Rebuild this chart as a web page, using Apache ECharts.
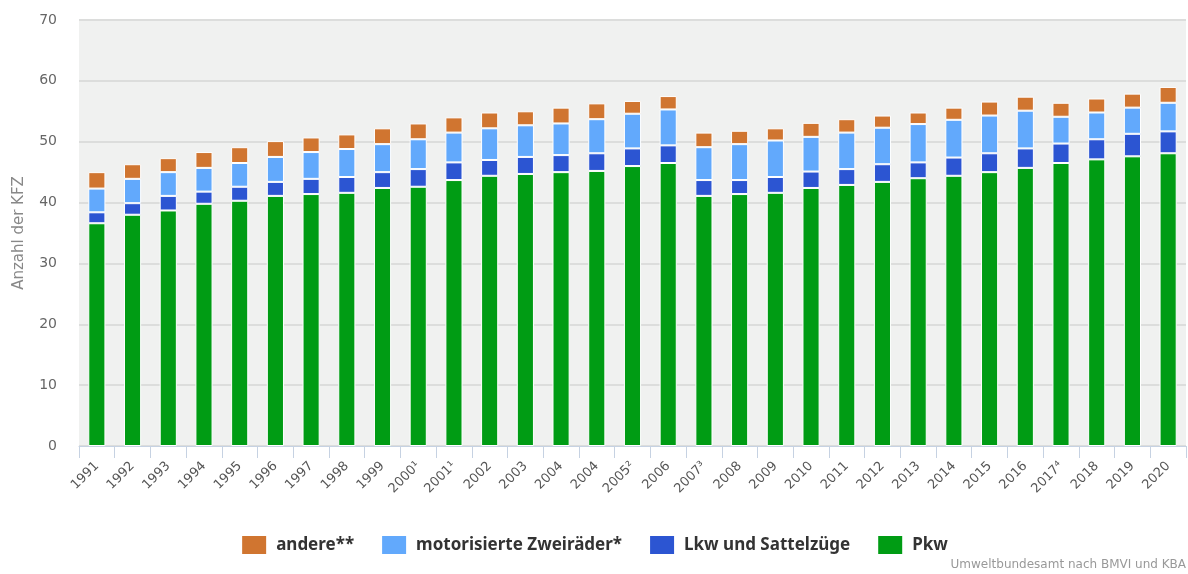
<!DOCTYPE html>
<html>
<head>
<meta charset="utf-8">
<script src="https://cdn.jsdelivr.net/npm/echarts@6/dist/echarts.min.js"></script>
<style>
  html, body { margin: 0; padding: 0; background: #fff; }
  #chart { width: 1188px; height: 574px; }
</style>
</head>
<body>
<div id="chart"></div>
<script>
const years = [
  "1991", "1992", "1993", "1994", "1995", "1996", "1997", "1998", "1999",
  "2000¹", "2001¹", "2002", "2003", "2004", "2004", "2005²", "2006", "2007³",
  "2008", "2009", "2010", "2011", "2012", "2013", "2014", "2015", "2016",
  "2017⁴", "2018", "2019", "2020"
];

// Mio. Fahrzeuge je Gruppe
const pkw = [
  36.6, 38.0, 38.7, 39.8, 40.3, 41.1, 41.4, 41.6, 42.4, 42.6, 43.7, 44.4, 44.7,
  45.0, 45.2, 46.0, 46.5, 41.1, 41.4, 41.6, 42.4, 42.9, 43.4, 44.0, 44.4, 45.0,
  45.7, 46.5, 47.1, 47.6, 48.1
];
const lkw = [
  1.8, 1.9, 2.4, 2.0, 2.3, 2.3, 2.5, 2.6, 2.6, 2.9, 2.9, 2.6, 2.8, 2.8, 2.9,
  2.9, 2.9, 2.6, 2.3, 2.6, 2.7, 2.6, 2.9, 2.6, 3.0, 3.1, 3.2, 3.2, 3.3, 3.7, 3.6
];
const zweiraeder = [
  3.9, 4.0, 3.9, 3.9, 3.9, 4.1, 4.4, 4.6, 4.6, 4.9, 4.9, 5.2, 5.2, 5.2, 5.6,
  5.7, 5.9, 5.4, 5.9, 6.0, 5.7, 6.0, 6.0, 6.3, 6.2, 6.2, 6.2, 4.4, 4.4, 4.3, 4.7
];
const andere = [
  2.7, 2.4, 2.3, 2.6, 2.6, 2.6, 2.4, 2.4, 2.6, 2.6, 2.5, 2.6, 2.3, 2.6, 2.6,
  2.1, 2.2, 2.4, 2.2, 2.0, 2.3, 2.2, 2.0, 1.9, 2.0, 2.3, 2.3, 2.3, 2.3, 2.3, 2.6
];

const chart = echarts.init(document.getElementById("chart"));

const barStyle = (color) => ({
  color: color,
  borderColor: "#ffffff",
  borderWidth: 1
});

const option = {
  animation: false,
  textStyle: { fontFamily: "DejaVu Sans" },
  grid: {
    left: 79,
    right: 2,
    top: 20,
    bottom: 128,
    show: true,
    backgroundColor: "#f0f1f0",
    borderWidth: 0
  },
  legend: {
    left: "center",
    top: 529,
    itemWidth: 26,
    itemHeight: 20,
    itemGap: 26,
    icon: "rect",
    textStyle: {
      fontFamily: "Noto Sans",
      fontWeight: "bold",
      fontSize: 17,
      color: "#333",
      padding: [0, 0, 0, 4]
    },
    data: ["andere**", "motorisierte Zweiräder*", "Lkw und Sattelzüge", "Pkw"]
  },
  xAxis: {
    type: "category",
    data: years,
    axisLine: { lineStyle: { color: "#c6d2e2", width: 1 } },
    axisTick: { show: true, length: 12, lineStyle: { color: "#c6d2e2" } },
    axisLabel: {
      rotate: 45,
      color: "#555",
      fontSize: 13,
      margin: 18,
      interval: 0
    }
  },
  yAxis: {
    type: "value",
    min: 0,
    max: 70,
    interval: 10,
    name: "Anzahl der KFZ",
    nameLocation: "middle",
    nameGap: 52,
    nameTextStyle: { color: "#888", fontSize: 15 },
    axisLine: { show: false },
    axisTick: { show: false },
    axisLabel: { color: "#666", fontSize: 14, margin: 22 },
    splitLine: { lineStyle: { color: "#dcdddc", width: 2 } }
  },
  series: [
    { name: "Pkw", type: "bar", stack: "kfz", barWidth: "48%", data: pkw, itemStyle: barStyle("#009c14") },
    { name: "Lkw und Sattelzüge", type: "bar", stack: "kfz", data: lkw, itemStyle: barStyle("#2c55d2") },
    { name: "motorisierte Zweiräder*", type: "bar", stack: "kfz", data: zweiraeder, itemStyle: barStyle("#62a9fc") },
    { name: "andere**", type: "bar", stack: "kfz", data: andere, itemStyle: barStyle("#d07530") }
  ],
  graphic: [
    {
      type: "text",
      right: 2,
      bottom: 3,
      style: {
        text: "Umweltbundesamt nach BMVI und KBA",
        fill: "#999",
        fontSize: 12,
        fontFamily: "DejaVu Sans"
      }
    }
  ]
};

chart.setOption(option);
</script>
</body>
</html>
